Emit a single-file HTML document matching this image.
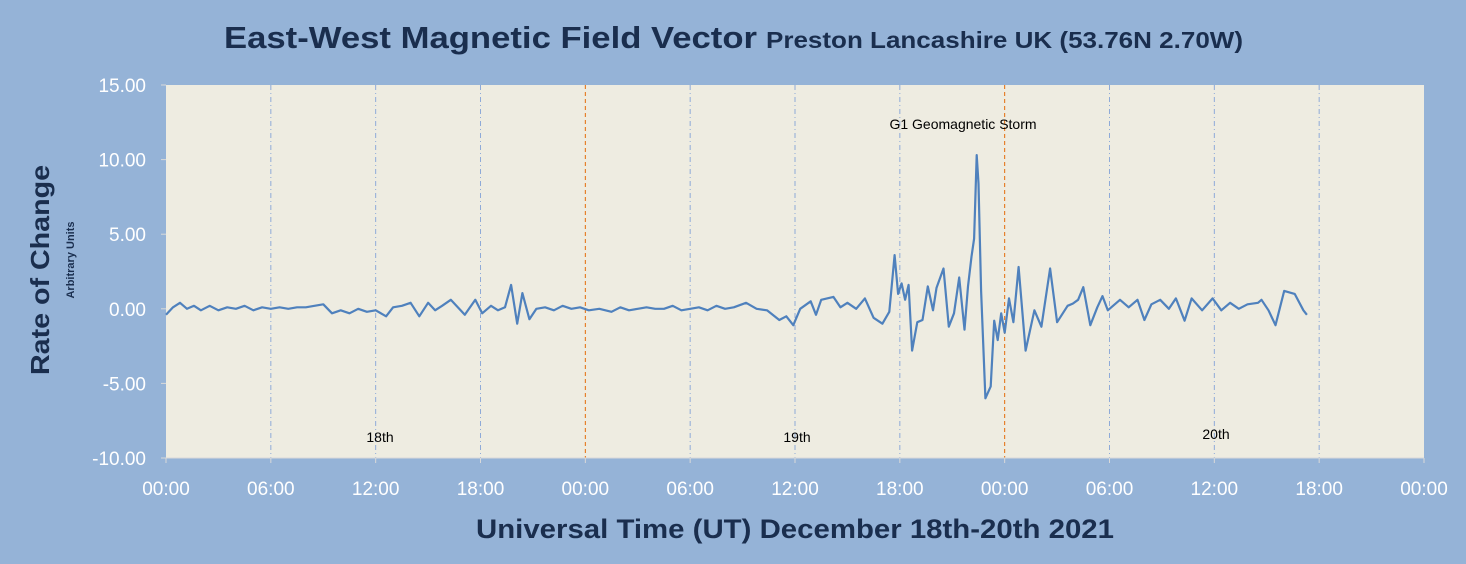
<!DOCTYPE html>
<html><head><meta charset="utf-8">
<style>
body{margin:0;background:#95b3d7;}
svg{display:block;font-family:"Liberation Sans",sans-serif;}
</style></head>
<body>
<svg id="chart" width="1466" height="564" viewBox="0 0 1466 564">
<rect x="0" y="0" width="1466" height="564" fill="#95b3d7"/>
<text x="224" y="48" font-size="31" font-weight="bold" fill="#1a2e4e" textLength="533" lengthAdjust="spacingAndGlyphs">East-West Magnetic Field Vector</text>
<text x="766" y="48" font-size="23" font-weight="bold" fill="#1a2e4e" textLength="477" lengthAdjust="spacingAndGlyphs">Preston Lancashire UK (53.76N 2.70W)</text>
<rect x="166" y="85" width="1258" height="373" fill="#eeece1"/>
<g id="grid"></g>
<g id="yticks"></g>
<g id="xticks"></g>
<path id="series" fill="none" stroke="#4f81bd" stroke-width="2.2" stroke-linejoin="round"/>
<text x="963" y="129" text-anchor="middle" font-size="14" fill="#000">G1 Geomagnetic Storm</text>
<text x="380" y="442" text-anchor="middle" font-size="14" fill="#000">18th</text>
<text x="797" y="442" text-anchor="middle" font-size="14" fill="#000">19th</text>
<text x="1216" y="439" text-anchor="middle" font-size="14" fill="#000">20th</text>
<text transform="translate(49,270) rotate(-90)" text-anchor="middle" font-size="26" font-weight="bold" fill="#1a2e4e" textLength="210" lengthAdjust="spacingAndGlyphs">Rate of Change</text>
<text transform="translate(74,260) rotate(-90)" text-anchor="middle" font-size="11" font-weight="bold" fill="#1a2e4e">Arbitrary Units</text>
<text x="476" y="538" font-size="27" font-weight="bold" fill="#1a2e4e" textLength="638" lengthAdjust="spacingAndGlyphs">Universal Time (UT) December 18th-20th 2021</text>
</svg>
<script>
const hours=[0,0.4,0.8,1.2,1.6,2,2.5,3,3.5,4,4.5,5,5.5,6,6.5,7,7.5,8,8.5,9,9.5,10,10.5,11,11.5,12,12.6,13,13.5,14,14.5,15,15.4,15.8,16.3,16.7,17.1,17.7,18.1,18.6,19,19.4,19.75,20.1,20.4,20.8,21.2,21.7,22.2,22.7,23.2,23.7,24.2,24.8,25.5,26,26.5,27,27.5,28,28.5,29,29.5,30,30.5,31,31.5,32,32.5,33.2,33.8,34.4,35.1,35.5,35.9,36.3,36.9,37.2,37.5,38.2,38.6,39,39.5,40,40.5,41,41.4,41.7,41.9,42.1,42.3,42.5,42.7,43.0,43.3,43.6,43.9,44.1,44.5,44.8,45.1,45.4,45.7,45.9,46.1,46.25,46.4,46.5,46.65,46.9,47.2,47.4,47.6,47.8,48.0,48.25,48.5,48.8,49.2,49.7,50.1,50.6,51.0,51.6,51.9,52.2,52.5,52.9,53.3,53.6,53.9,54.6,55.1,55.6,56.0,56.4,56.9,57.4,57.8,58.0,58.3,58.7,59.3,59.9,60.4,60.9,61.4,61.9,62.5,62.7,63.1,63.5,64.0,64.6,65.1,65.3];
const values=[-0.4,0.1,0.4,0.0,0.2,-0.1,0.2,-0.1,0.1,0.0,0.2,-0.1,0.1,0.0,0.1,0.0,0.1,0.1,0.2,0.3,-0.3,-0.1,-0.3,0.0,-0.2,-0.1,-0.5,0.1,0.2,0.4,-0.5,0.4,-0.1,0.2,0.6,0.1,-0.4,0.6,-0.3,0.2,-0.1,0.1,1.6,-1.0,1.05,-0.7,0.0,0.1,-0.1,0.2,0.0,0.1,-0.1,0.0,-0.2,0.1,-0.1,0.0,0.1,0.0,0.0,0.2,-0.1,0.0,0.1,-0.1,0.2,0.0,0.1,0.4,0.0,-0.1,-0.75,-0.5,-1.1,0.0,0.5,-0.4,0.6,0.8,0.1,0.4,0.0,0.7,-0.6,-1.0,-0.2,3.6,1.0,1.7,0.6,1.6,-2.8,-0.9,-0.75,1.5,-0.1,1.4,2.7,-1.2,-0.3,2.1,-1.4,1.5,3.5,4.7,10.3,8.4,1.2,-6.0,-5.2,-0.8,-2.1,-0.3,-1.6,0.7,-0.9,2.8,-2.8,-0.1,-1.2,2.7,-0.9,0.2,0.35,0.6,1.45,-1.1,0.1,0.85,-0.1,0.6,0.1,0.6,-0.75,0.3,0.6,0.0,0.7,0.1,-0.8,0.7,-0.1,0.7,-0.1,0.4,0.0,0.3,0.4,0.6,-0.1,-1.1,1.2,1.0,-0.1,-0.4,0.3,0.9,-0.8];
const yTickValues=[15,10,5,0,-5,-10];
const xTickLabels=["00:00","06:00","12:00","18:00","00:00","06:00","12:00","18:00","00:00","06:00","12:00","18:00","00:00"];

const X0=166,X1=1424,Y0=85,Y1=458,HMAX=72,VMIN=-10,VMAX=15;
function xs(h){return X0+(h/HMAX)*(X1-X0);}
function ys(v){return Y1-(v-VMIN)/(VMAX-VMIN)*(Y1-Y0);}
const NS="http://www.w3.org/2000/svg";
const grid=document.getElementById('grid');
const xt=document.getElementById('xticks');
xTickLabels.forEach((lab,i)=>{
  const h=i*6,x=xs(h);
  if(i>0&&h<HMAX){
    const l=document.createElementNS(NS,'line');
    
    
    const mid=(h%24===0);
    l.setAttribute('x1',x);l.setAttribute('x2',x);l.setAttribute('y1',Y0);l.setAttribute('y2',Y1);
    l.setAttribute('stroke',mid?'#e46c0a':'#8eaad8');
    l.setAttribute('stroke-width',1);
    l.setAttribute('stroke-dasharray',mid?'4,3':'5,3,1,3');
    grid.appendChild(l);
  }
  const tk=document.createElementNS(NS,'line');
  
  
  tk.setAttribute('x1',x);tk.setAttribute('x2',x);tk.setAttribute('y1',Y1);tk.setAttribute('y2',Y1+5);
  tk.setAttribute('stroke','#d9d9d9');
  xt.appendChild(tk);
  const t=document.createElementNS(NS,'text');
  
  
  t.setAttribute('x',x);t.setAttribute('y',495);t.setAttribute('text-anchor','middle');
  t.setAttribute('font-size','19');t.setAttribute('fill','#ffffff');
  t.textContent=lab;xt.appendChild(t);
});
const yt=document.getElementById('yticks');
yTickValues.forEach(v=>{
  const t=document.createElementNS(NS,'text');
  
  
  t.setAttribute('x',146);t.setAttribute('y',ys(v)+7);t.setAttribute('text-anchor','end');
  t.setAttribute('font-size','19');t.setAttribute('fill','#ffffff');
  t.textContent=v.toFixed(2);yt.appendChild(t);
  const tk=document.createElementNS(NS,'line');
  
  
  tk.setAttribute('x1',X0-5);tk.setAttribute('x2',X0);tk.setAttribute('y1',ys(v));tk.setAttribute('y2',ys(v));
  tk.setAttribute('stroke','#d9d9d9');yt.appendChild(tk);
});
const ax=document.createElementNS(NS,'line');


ax.setAttribute('x1',X0);ax.setAttribute('x2',X1);ax.setAttribute('y1',Y1);ax.setAttribute('y2',Y1);ax.setAttribute('stroke','#d9d9d9');
yt.appendChild(ax);
let d='';
hours.forEach((h,i)=>{d+=(i?'L':'M')+xs(h).toFixed(1)+' '+ys(values[i]).toFixed(1);});
document.getElementById('series').setAttribute('d',d);
</script>
</body></html>
